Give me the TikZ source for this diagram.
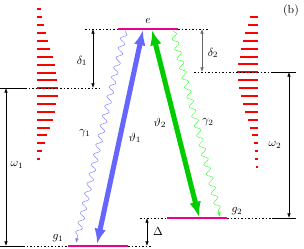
\documentclass[tikz,border=0pt]{standalone}
\usetikzlibrary{arrows.meta,decorations.pathmorphing}
\begin{document}
\begin{tikzpicture}[x=0.855pt,y=-0.855pt,
  level/.style={magenta,line width=1.8pt},
  dots/.style={line width=0.4pt,dash pattern=on 1.5pt off 1.5pt},
  solidl/.style={line width=0.4pt},
  meas/.style={line width=0.5pt,{Latex[length=4pt,width=3pt]}-{Latex[length=4pt,width=3pt]}},
  pump/.style={line width=4.3pt,{Latex[length=13pt,width=10pt]}-{Latex[length=13pt,width=10pt]}},
  decay/.style={line width=0.4pt,decorate,decoration={snake,amplitude=2.5pt,segment length=8.5pt,post length=4pt},-{Latex[length=4pt,width=3pt]}},
  ladder/.style={draw=red,line width=0.9pt},
  lbl/.style={inner sep=0pt}]
\useasboundingbox (0,0) rectangle (304,249);
% red ladders
\foreach \yy/\ww in {9/4,17/4.5,25/7,33/8.5,41/11,49/13,57/16,65/18,73/19,80/20,88/21,96/21,104/19,112/18,120/16,128/13,135/10,143/8,151/5,159/3}{
  \path[ladder] (37,\yy) -- ++(\ww,0);
}
\foreach \yy/\ww in {17/8.3,25/10,33/12.7,41/15,49/16.7,57/18.3,64/20,72/20.7,80/20,88/19,96/17.3,104/15,112/12.7,120/10,128/8.3,135/6,143/4.3,151/3.3,159/2.7,167/1.7}{
  \path[ladder] (258,\yy) -- ++(-\ww,0);
}
% coordinates
\coordinate (eL) at (118,29); \coordinate (eR) at (178,29);
\coordinate (g1L) at (68,246); \coordinate (g1R) at (128,246);
\coordinate (g2L) at (167,218); \coordinate (g2R) at (227,218);
\coordinate (eLd) at (85,29); \coordinate (eRd) at (209,29);
\coordinate (v1a) at (0,88); \coordinate (v1b) at (25,88); \coordinate (v1c) at (102,88);
\coordinate (v2a) at (194,72); \coordinate (v2b) at (273,72); \coordinate (v2c) at (296,72);
\coordinate (g1a) at (0,246); \coordinate (g1b) at (23,246); \coordinate (g1c) at (151,246);
\coordinate (g2a) at (140,218); \coordinate (g2b) at (272,218); \coordinate (g2c) at (296,218);
% dashed / solid guide lines
\draw[dots] (eLd) -- (eL);
\draw[dots] (eR) -- (eRd);
\draw[solidl] (v1a) -- (v1b); \draw[dots] (v1b) -- (v1c);
\draw[dots] (v2a) -- (v2b); \draw[solidl] (v2b) -- (v2c);
\draw[solidl] (g1a) -- (g1b); \draw[dots] (g1b) -- (g1L); \draw[dots] (g1R) -- (g1c);
\draw[dots] (g2a) -- (g2L); \draw[dots] (g2R) -- (g2b); \draw[solidl] (g2b) -- (g2c);
% measure arrows
\coordinate (d1t) at (93,29); \coordinate (d1b) at (93,88);
\coordinate (d2t) at (202,29); \coordinate (d2b) at (202,72);
\coordinate (w1t) at (6,88); \coordinate (w1b) at (6,246);
\coordinate (w2t) at (289,72); \coordinate (w2b) at (289,218);
\coordinate (Dt) at (147,218); \coordinate (Db) at (147,246);
\draw[meas] (d1t) -- (d1b);
\draw[meas,black!60] (d2t) -- (d2b);
\draw[meas] (w1t) -- (w1b);
\draw[meas] (w2t) -- (w2b);
\draw[meas] (Dt) -- (Db);
% decays
\coordinate (c1s) at (125,31); \coordinate (c1e) at (76,243);
\coordinate (c2s) at (173,31); \coordinate (c2e) at (220,217);
\draw[decay,blue!50] (c1s) -- (c1e);
\draw[decay,green!75] (c2s) -- (c2e);
% pumps
\coordinate (p1t) at (143,30); \coordinate (p1b) at (97,244);
\coordinate (p2t) at (152,30); \coordinate (p2b) at (199,217);
\draw[pump,blue!60] (p1t) -- (p1b);
\draw[pump,green!80!black] (p2t) -- (p2b);
% levels
\draw[level] (eL) -- (eR);
\draw[level] (g1L) -- (g1R);
\draw[level] (g2L) -- (g2R);
% labels
\node[lbl] (le) at (148,21) {$e$};
\node[lbl] (lg1) at (58,238) {$g_1$};
\node[lbl] (lg2) at (237,211) {$g_2$};
\node[lbl] (ld1) at (82,61) {$\delta_1$};
\node[lbl] (ld2) at (213,53) {$\delta_2$};
\node[lbl] (lw1) at (17,165) {$\omega_1$};
\node[lbl] (lw2) at (275,145) {$\omega_2$};
\node[lbl] (lD) at (158,232) {$\Delta$};
\node[lbl] (lc1) at (85,133) {$\gamma_1$};
\node[lbl] (lc2) at (208,122) {$\gamma_2$};
\node[lbl] (lp1) at (135,138) {$\vartheta_1$};
\node[lbl] (lp2) at (160,123) {$\vartheta_2$};
\node[lbl] (lb) at (291,11) {(b)};
\end{tikzpicture}
\end{document}
